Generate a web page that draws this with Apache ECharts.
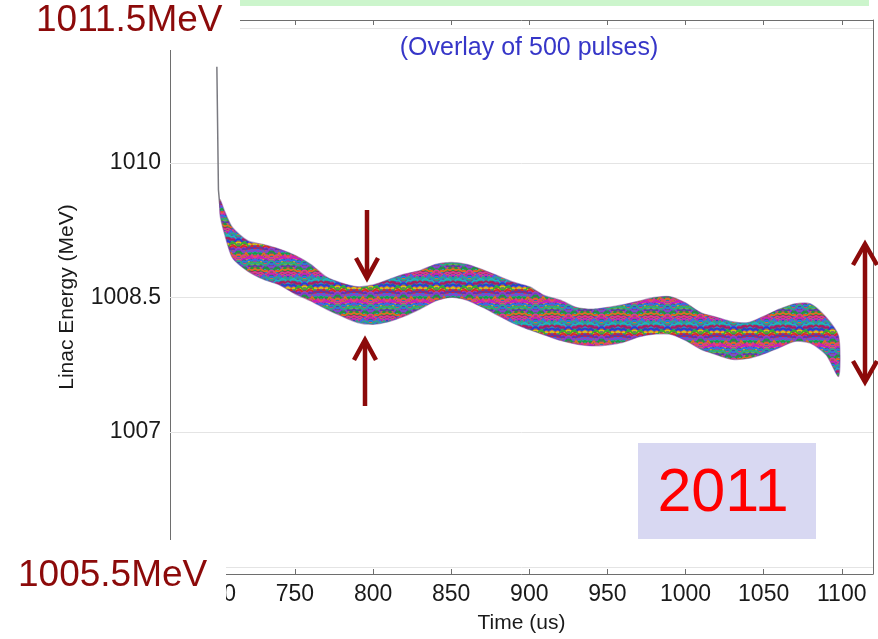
<!DOCTYPE html>
<html>
<head>
<meta charset="utf-8">
<script src="https://cdn.jsdelivr.net/npm/echarts@6/dist/echarts.min.js"></script>
<style>
  html, body { margin: 0; padding: 0; background: #ffffff; }
  #chart { width: 878px; height: 639px; }
</style>
</head>
<body>
<div id="chart"></div>
<script>
// Axis ticks
const timeTicks = [700, 750, 800, 850, 900, 950, 1000, 1050, 1100];
const energyGrid = [1005.5, 1007, 1008.5, 1010, 1011.5];
const energyTicks = [1007, 1008.5, 1010];

// Envelope of the overlaid pulses: time (us), upper and lower energy (MeV)
const bandTime = [702, 705, 710, 720, 730, 740, 750, 760, 770, 780, 790, 800, 810, 820, 830, 840, 850, 860, 870, 880, 890, 900, 910, 920, 930, 940, 950, 960, 970, 980, 990, 1000, 1010, 1020, 1030, 1040, 1050, 1060, 1070, 1080, 1090, 1098];
const bandUpper = [1009.59, 1009.46, 1009.28, 1009.13, 1009.09, 1009.04, 1008.97, 1008.87, 1008.73, 1008.66, 1008.62, 1008.64, 1008.70, 1008.76, 1008.80, 1008.87, 1008.89, 1008.87, 1008.81, 1008.74, 1008.67, 1008.62, 1008.52, 1008.47, 1008.39, 1008.37, 1008.39, 1008.42, 1008.46, 1008.50, 1008.51, 1008.44, 1008.33, 1008.28, 1008.23, 1008.22, 1008.29, 1008.37, 1008.43, 1008.43, 1008.28, 1008.07];
const bandLower = [1009.42, 1009.20, 1008.94, 1008.79, 1008.70, 1008.64, 1008.54, 1008.46, 1008.37, 1008.29, 1008.22, 1008.20, 1008.23, 1008.29, 1008.37, 1008.46, 1008.50, 1008.47, 1008.39, 1008.30, 1008.21, 1008.14, 1008.08, 1008.02, 1007.98, 1007.96, 1007.97, 1008.00, 1008.06, 1008.09, 1008.09, 1008.02, 1007.92, 1007.86, 1007.81, 1007.82, 1007.87, 1007.94, 1008.01, 1007.99, 1007.86, 1007.62];

// Leading spike at the start of the pulse
const spikeTime = [700, 701, 702];
const spikeEnergy = [1011.07, 1009.70, 1009.50];

// Multicoloured texture suggesting hundreds of overlapping traces
function makeTraceTexture() {
  const palette = ['#2a3cd6', '#d42a2a', '#1f9a3c', '#c21fc4', '#1fb2c4', '#d8c21a',
                   '#6a2fa8', '#e0701c', '#2f74e6', '#a81f5e', '#3fae2a', '#8a3fd0',
                   '#e23a8a', '#2aa88a'];
  const w = 66, h = 44;
  const c = document.createElement('canvas');
  c.width = w; c.height = h;
  const ctx = c.getContext('2d');
  ctx.fillStyle = '#5e4a86';
  ctx.fillRect(0, 0, w, h);
  ctx.lineWidth = 1.7;
  ctx.lineJoin = 'round';
  for (let pass = 0; pass < 3; pass++) {
    for (let r = 0; r < 22; r++) {
      const y0 = r * 2 + (pass * 0.7);
      ctx.strokeStyle = palette[(r * 5 + pass * 3) % palette.length];
      for (let shift = -h; shift <= h; shift += h) {
        ctx.beginPath();
        for (let k = 0; k <= 22; k++) {
          const kk = k % 22;
          const dy = (((kk * kk * 3 + kk * 7 + r * 13 + pass * 5) % 11) - 5) * 0.55;
          const x = k * 3;
          const y = y0 + dy + shift;
          if (k === 0) ctx.moveTo(x, y); else ctx.lineTo(x, y);
        }
        ctx.stroke();
      }
    }
  }
  return c;
}
const traceTexture = makeTraceTexture();

const chart = echarts.init(document.getElementById('chart'), null, { renderer: 'canvas' });

const font = 'Liberation Sans, Arial, Helvetica, sans-serif';
const axisGray = '#6e6e6e';
const darkRed = '#8c0a0a';

const option = {
  backgroundColor: '#ffffff',
  animation: false,
  grid: { left: 170, right: 5, top: 20, bottom: 64, containLabel: false },
  xAxis: [
    {
      type: 'value', position: 'bottom', min: 670, max: 1120,
      name: 'Time (us)', nameLocation: 'middle', nameGap: 39,
      nameTextStyle: { fontFamily: font, fontSize: 21, color: '#1a1a1a' },
      axisLine: { show: true, lineStyle: { color: axisGray, width: 1 } },
      axisTick: { show: true, inside: true, length: 5, customValues: timeTicks, lineStyle: { color: axisGray } },
      axisLabel: { customValues: timeTicks, fontFamily: font, fontSize: 23, color: '#1a1a1a', margin: 9,
                   formatter: v => String(v) },
      splitLine: { show: false }
    },
    {
      type: 'value', position: 'top', min: 670, max: 1120,
      axisLine: { show: true, onZero: false, lineStyle: { color: axisGray, width: 1 } },
      axisTick: { show: true, inside: true, length: 5, customValues: timeTicks, lineStyle: { color: axisGray } },
      axisLabel: { show: false },
      splitLine: { show: false }
    }
  ],
  yAxis: [
    {
      type: 'value', position: 'left', min: 1005.42, max: 1011.59,
      name: 'Linac Energy (MeV)', nameLocation: 'middle', nameGap: 92,
      nameTextStyle: { fontFamily: font, fontSize: 21, color: '#1a1a1a' },
      axisLine: { show: true, lineStyle: { color: axisGray, width: 1 } },
      axisTick: { show: true, inside: true, length: 5, customValues: energyGrid, lineStyle: { color: axisGray } },
      axisLabel: { customValues: energyTicks, fontFamily: font, fontSize: 23, color: '#1a1a1a', margin: 9,
                   formatter: v => String(v) },
      splitLine: { show: false }
    },
    {
      type: 'value', position: 'right', min: 1005.42, max: 1011.59,
      axisLine: { show: true, onZero: false, lineStyle: { color: axisGray, width: 1 } },
      axisTick: { show: true, inside: true, length: 5, customValues: energyGrid, lineStyle: { color: axisGray } },
      axisLabel: { show: false },
      splitLine: { show: false }
    }
  ],
  series: [
    {
      name: 'spike',
      type: 'line',
      xAxisIndex: 0, yAxisIndex: 0,
      data: spikeTime.map((t, i) => [t, spikeEnergy[i]]),
      symbol: 'none',
      lineStyle: { color: '#7a7a80', width: 1.5 },
      z: 2,
      markLine: {
        silent: true,
        z: 1,
        symbol: 'none',
        label: { show: false },
        lineStyle: { color: '#e4e4e4', width: 1, type: 'solid' },
        data: energyGrid.map(v => ({ yAxis: v }))
      }
    },
    {
      name: 'pulses',
      type: 'custom',
      xAxisIndex: 0, yAxisIndex: 0,
      data: bandTime.map((t, i) => [t, bandLower[i], bandUpper[i]]),
      encode: { x: 0, y: [1, 2] },
      z: 4,
      renderItem: function (params, api) {
        if (params.dataIndex !== 0) return null;
        const pts = [];
        for (let i = 0; i < bandTime.length; i++) pts.push(api.coord([bandTime[i], bandUpper[i]]));
        for (let i = bandTime.length - 1; i >= 0; i--) pts.push(api.coord([bandTime[i], bandLower[i]]));
        return {
          type: 'polygon',
          shape: { points: pts, smooth: 0.25 },
          style: {
            fill: { image: traceTexture, repeat: 'repeat' },
            stroke: 'rgba(110,60,150,0.45)',
            lineWidth: 1.2
          }
        };
      }
    }
  ],
  graphic: [
    // light green strip along the top edge
    { type: 'rect', z: 50, shape: { x: 240, y: 0, width: 629, height: 6 }, style: { fill: '#ccf5cc' } },
    // caption
    { type: 'text', z: 50, x: 529, y: 48,
      style: { text: '(Overlay of 500 pulses)', fill: '#3636c8', font: '25px ' + font, textAlign: 'center', textVerticalAlign: 'middle' } },
    // range labels
    { type: 'rect', z: 60, shape: { x: 0, y: 0, width: 240, height: 50 }, style: { fill: '#ffffff' } },
    { type: 'text', z: 61, x: 36, y: 21,
      style: { text: '1011.5MeV', fill: darkRed, font: '37px ' + font, textAlign: 'left', textVerticalAlign: 'middle' } },
    { type: 'rect', z: 60, shape: { x: 0, y: 540, width: 226, height: 99 }, style: { fill: '#ffffff' } },
    { type: 'text', z: 61, x: 18, y: 576,
      style: { text: '1005.5MeV', fill: darkRed, font: '37px ' + font, textAlign: 'left', textVerticalAlign: 'middle' } },
    // year badge
    { type: 'rect', z: 50, shape: { x: 638, y: 443, width: 178, height: 96 }, style: { fill: '#d8d8f2' } },
    { type: 'text', z: 51, x: 723, y: 494,
      style: { text: '2011', fill: '#ff0000', font: '61px ' + font, textAlign: 'center', textVerticalAlign: 'middle' } },
    // arrows marking the pulse-to-pulse spread
    { type: 'line', z: 55, shape: { x1: 367, y1: 210, x2: 367, y2: 277 }, style: { stroke: darkRed, lineWidth: 4.5 } },
    { type: 'polyline', z: 55, shape: { points: [[356, 258], [367, 278], [378, 258]] }, style: { stroke: darkRed, lineWidth: 4.5, fill: null } },
    { type: 'line', z: 55, shape: { x1: 365, y1: 341, x2: 365, y2: 406 }, style: { stroke: darkRed, lineWidth: 4.5 } },
    { type: 'polyline', z: 55, shape: { points: [[354, 360], [365, 340], [376, 360]] }, style: { stroke: darkRed, lineWidth: 4.5, fill: null } },
    { type: 'line', z: 55, shape: { x1: 865, y1: 245, x2: 865, y2: 381 }, style: { stroke: darkRed, lineWidth: 4.5 } },
    { type: 'polyline', z: 55, shape: { points: [[853, 265], [865, 244], [877, 265]] }, style: { stroke: darkRed, lineWidth: 4.5, fill: null } },
    { type: 'polyline', z: 55, shape: { points: [[853, 361], [865, 382], [877, 361]] }, style: { stroke: darkRed, lineWidth: 4.5, fill: null } }
  ]
};

chart.setOption(option);
</script>
</body>
</html>
